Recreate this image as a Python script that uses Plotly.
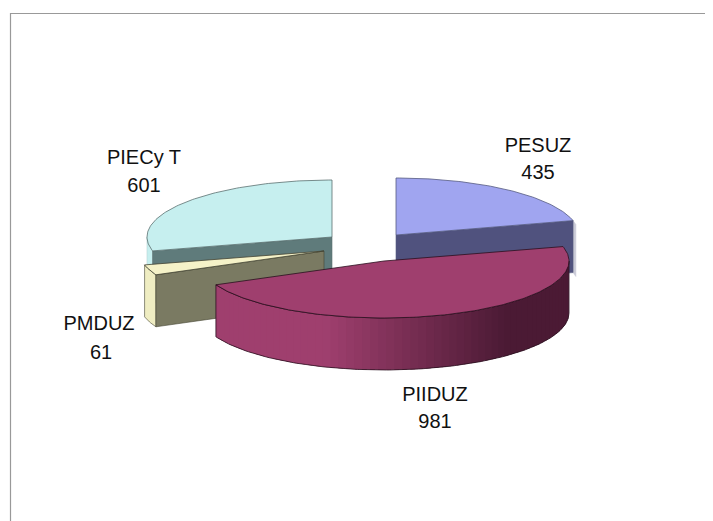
import math
import plotly.graph_objects as go

# Data
categories = ["PESUZ", "PIIDUZ", "PMDUZ", "PIECy T"]
values = [435, 981, 61, 601]

# Style / layout
top_colors = ["#a0a5f0", "#9f3f6e", "#f5f2c8", "#c6efef"]
wall_colors = ["#50527e", "#9f3f6e", "#7a7a62", "#5f7b7b"]
outer_colors = ["#c9cad6", "#9f3f6e", "#efedc2", "#c6efef"]
edge_colors = ["#555a80", "#2a0f1e", "#444433", "#5a7070"]
centers = [(396, 235), (384, 261), (324, 251), (332, 237)]
radii_x = [183, 185, 185, 185]
RY, DEPTH = 57, 52
PAGE_OFFSET = 8  # default body margin of the page
label_pos = {
    "PESUZ": ((538, 147), (538, 174)),
    "PIIDUZ": ((435, 396), (435, 423)),
    "PMDUZ": ((99, 325), (101, 354)),
    "PIECy T": ((144, 159), (144, 187)),
}

total = sum(values)
spans = []
start = 0.0
for v in values:
    spans.append((start, start + v / total * 360))
    start += v / total * 360


def rim(i, deg, dz=0):
    t = math.radians(deg)
    c = centers[i]
    return c[0] + radii_x[i] * math.sin(t), c[1] - RY * math.cos(t) + dz


def arc(i, a0, a1, dz=0, step=1.0):
    n = max(2, int(abs(a1 - a0) / step) + 1)
    return [rim(i, a0 + (a1 - a0) * k / (n - 1), dz) for k in range(n)]


fig = go.Figure()


def poly(pts, fill, line=None, width=0.8):
    fig.add_trace(go.Scatter(
        x=[p[0] for p in pts] + [pts[0][0]],
        y=[p[1] for p in pts] + [pts[0][1]],
        mode="lines", fill="toself", fillcolor=fill,
        line=dict(color=line or fill, width=width),
        hoverinfo="skip", showlegend=False))


def outer_wall(i, a0, a1, line=None):
    poly(arc(i, a0, a1) + arc(i, a1, a0, DEPTH), outer_colors[i], line or edge_colors[i], 0.6)


def radial_wall(i, deg):
    c = centers[i]
    edge = rim(i, deg)
    poly([c, edge, (edge[0], edge[1] + DEPTH), (c[0], c[1] + DEPTH)],
         wall_colors[i], edge_colors[i], 0.6)


def top_face(i):
    poly([centers[i]] + arc(i, spans[i][0], spans[i][1]), top_colors[i], edge_colors[i], 0.8)


# Back slices first: PIECy T, PESUZ, PMDUZ, then PIIDUZ in front
outer_wall(3, spans[3][0], 270, line="#b5d5d5")
radial_wall(3, spans[3][0])
top_face(3)

outer_wall(0, spans[0][1], spans[0][1] + 4, line="#c9cad6")
radial_wall(0, spans[0][1])
top_face(0)

outer_wall(2, spans[2][0], spans[2][1])
radial_wall(2, spans[2][0])
top_face(2)

# PIIDUZ outer wall with left-to-right shading; each band overlaps the previous one
a = spans[1][1]
seg = 2.5
light, dark = (159, 63, 110), (75, 26, 52)
while a > 90:
    b = max(90, a - seg)
    xm = rim(1, (a + b) / 2)[0]
    f = min(1, max(0, (xm - 330) / (510 - 330)))
    col = "rgb(%d,%d,%d)" % tuple(round(light[k] + (dark[k] - light[k]) * f) for k in range(3))
    a0 = min(spans[1][1], a + 1.5)
    poly(arc(1, b, a0, step=0.5) + arc(1, a0, b, DEPTH, step=0.5), col, col, 0)
    a = b
# PIIDUZ outline
outline = arc(1, spans[1][1], 90) + arc(1, 90, spans[1][1], DEPTH)
fig.add_trace(go.Scatter(
    x=[p[0] for p in outline] + [outline[0][0]],
    y=[p[1] for p in outline] + [outline[0][1]],
    mode="lines", line=dict(color=edge_colors[1], width=0.8),
    hoverinfo="skip", showlegend=False))
top_face(1)

# Labels
for name, v in zip(categories, values):
    (nx, ny), (vx, vy) = label_pos[name]
    fig.add_trace(go.Scatter(
        x=[nx, vx], y=[ny, vy], mode="text", text=[name, str(v)],
        textposition="middle center",
        textfont=dict(family="Liberation Sans, Arial, sans-serif", size=20, color="#111111"),
        hoverinfo="skip", showlegend=False))

fig.update_layout(
    width=713 - PAGE_OFFSET, height=521 - PAGE_OFFSET, margin=dict(l=0, r=0, t=0, b=0),
    paper_bgcolor="white", plot_bgcolor="white",
    xaxis=dict(range=[PAGE_OFFSET, 713], visible=False, fixedrange=True),
    yaxis=dict(range=[521, PAGE_OFFSET], visible=False, fixedrange=True),
    shapes=[
        dict(type="line", x0=10, x1=713, y0=13.5, y1=13.5, line=dict(color="#999999", width=1.2)),
        dict(type="line", x0=10.5, x1=10.5, y0=13, y1=521, line=dict(color="#999999", width=1.2)),
    ],
)
fig.write_html("out.html", config=dict(displayModeBar=False))
